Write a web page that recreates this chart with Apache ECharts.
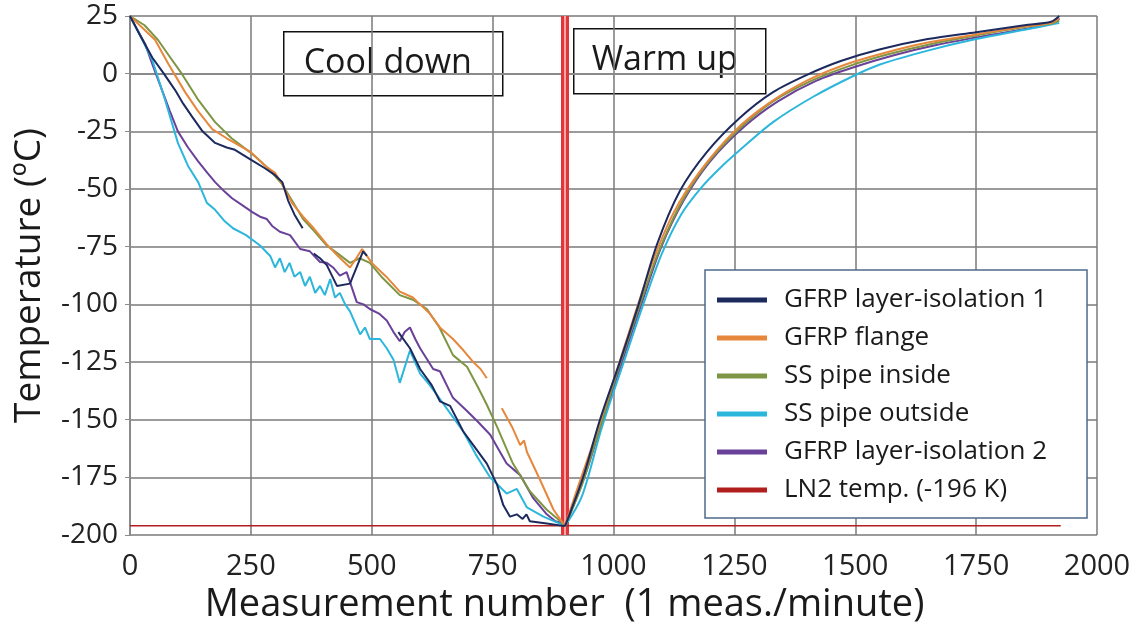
<!DOCTYPE html>
<html>
<head>
<meta charset="utf-8">
<script src="https://cdn.jsdelivr.net/npm/echarts@6/dist/echarts.min.js"></script>
<style>
  html, body { margin: 0; padding: 0; background: #fff; }
  #chart { width: 1140px; height: 629px; }
</style>
</head>
<body>
<div id="chart"></div>
<script>
// values read off the picture: [measurement number, temperature in C]; '-' marks a gap in the record
// cool down part
const iso1Cool = [[0, 25], [20, 17], [46, 7], [70, 0], [93, -7], [110, -13], [128, -18.5], [150, -25], [176, -30], [200, -32], [217, -33], [248, -37], [279, -41], [300, -44], [315, -47], [327, -55], [340, -61], [357, -67], [368, '-'], [380, -78], [393, -80], [407, -83], [428, -92], [455, -91], [482, -77], [490, -79], [520, '-'], [555, -112], [579, -119], [600, -128], [624, -135], [641, -142], [662, -144], [689, -155], [710, -161], [738, -169], [759, -178], [772, -187], [786, -192], [800, -191], [812, -193], [820, -191], [827, -194], [862, -195], [896, -196], [900, -196]]
const flangeCool = [[0, 25], [25, 20], [52, 14.6], [80, 4], [114, -8], [140, -16], [170, -24], [200, -28], [250, -34], [280, -40], [300, -43], [315, -48], [335, -56], [358, -62], [380, -67], [407, -74], [430, -79], [455, -84], [468, -80], [480, -76], [490, -79], [500, -82], [530, -88], [558, -94.5], [585, -97], [600, -100], [620, -104], [641, -110], [668, -115], [690, -120], [710, -125], [725, -128], [738, -132], [750, '-'], [769, -145], [790, -153], [807, -161], [815, -159], [821, -164], [848, -176], [876, -189], [896, -195], [900, -196]]
const ssInsideCool = [[0, 25], [30, 21], [58, 14.6], [80, 8], [107, 0], [140, -11], [176, -21], [210, -28], [248, -34], [270, -38], [290, -42], [315, -48], [335, -55], [358, -63], [380, -68], [407, -74.5], [430, -78], [455, -82], [475, -80], [496, -82], [520, -88], [558, -96], [585, -98], [614, -102], [640, -110], [668, -122], [697, -127], [720, -136], [738, -143.5], [759, -153], [792, -169], [827, -181], [862, -189], [896, -195], [900, -196]]
const ssOutsideCool = [[0, 25], [20, 17], [46, 6], [72, -11], [99, -30], [120, -40], [141, -47], [159, -56], [176, -59], [196, -64], [213, -67], [240, -70], [269, -74.5], [290, -79], [300, -84], [310, -80], [320, -86], [330, -82], [340, -88], [352, -86], [362, -92], [372, -88], [383, -95], [393, -92], [403, -96], [414, -89], [424, -97], [434, -95], [445, -100], [455, -103], [476, -113], [486, -110], [496, -115], [517, -115], [531, -119], [545, -124], [558, -134], [579, -120], [600, -130], [620, -135], [641, -141], [665, -148], [689, -155], [715, -165], [745, -175], [779, -182], [800, -180], [821, -188], [855, -192], [889, -195], [900, -196]]
const iso2Cool = [[0, 25], [15, 19], [31, 13], [48, 3], [66, -7], [82, -16], [99, -25], [120, -32], [141, -38], [160, -43], [176, -47], [195, -51], [211, -54], [232, -57], [253, -60], [269, -62], [283, -63], [294, -66], [310, -68.5], [331, -70], [352, -76], [372, -77], [393, -81.6], [407, -82], [420, -84], [434, -87.5], [448, -86], [469, -99], [483, -100], [496, -102], [515, -104], [531, -107], [545, -112], [558, -116], [568, -112], [579, -110], [590, -115], [600, -119], [627, -128], [641, -129], [668, -140.5], [696, -146], [720, -151], [745, -156.5], [760, -162], [779, -169], [807, -174], [834, -184], [862, -191], [880, -194], [896, -195], [900, -196]]

// warm up part
const iso1Warm = [[900, -196], [937, -175], [972, -150], [1013, -125], [1052, -100], [1090, -74], [1137, -51], [1193, -34], [1262, -19], [1330, -8], [1400, -0.5], [1470, 5.5], [1550, 10.5], [1650, 15], [1750, 18], [1850, 21], [1905, 22.5], [1922, 25]]
const flangeWarm = [[900, -196], [925, -180], [958, -160], [1000, -133], [1040, -107], [1080, -82], [1125, -60], [1180, -42], [1250, -25], [1320, -13], [1400, -3], [1480, 4], [1560, 9], [1650, 13.5], [1750, 17], [1850, 20.5], [1905, 22], [1922, 24]]
const ssInsideWarm = [[900, -196], [935, -178], [968, -156], [1010, -128], [1050, -103], [1090, -79], [1135, -58], [1190, -40], [1260, -24], [1330, -12], [1410, -3], [1490, 3.5], [1570, 8.5], [1660, 13], [1760, 17], [1860, 20.5], [1910, 22], [1922, 23]]
const ssOutsideWarm = [[900, -196], [935, -183], [975, -154], [1018, -127], [1060, -101], [1100, -78], [1140, -61], [1179, -50], [1220, -41], [1262, -33], [1330, -21], [1413, -10], [1496, -1], [1551, 4], [1650, 10], [1750, 15], [1850, 19], [1910, 21.5], [1922, 22]]
const iso2Warm = [[900, -196], [938, -176], [975, -152], [1016, -126], [1056, -101], [1097, -76], [1145, -55], [1200, -38], [1270, -23], [1340, -12], [1420, -3], [1500, 3], [1580, 8], [1670, 12.5], [1770, 16.5], [1870, 20], [1912, 22], [1922, 24]]

const ln2Data = [[0, -196], [1925, -196]]
const turnPoint = 900

const seriesNames = ['GFRP layer-isolation 1', 'GFRP flange', 'SS pipe inside', 'SS pipe outside', 'GFRP layer-isolation 2', 'LN2 temp. (-196 K)']
const seriesColors = ['#1c2a5e', '#e6873c', '#7e9644', '#2db6dc', '#6a4199', '#b01e1e']
const coolData = [iso1Cool, flangeCool, ssInsideCool, ssOutsideCool, iso2Cool]
const warmData = [iso1Warm, flangeWarm, ssInsideWarm, ssOutsideWarm, iso2Warm]

const font = '"Open Sans", sans-serif'
const chart = echarts.init(document.getElementById('chart'))

function lineSeries(i, data, smooth) {
  return {
    name: seriesNames[i],
    type: 'line',
    data: data,
    smooth: smooth,
    showSymbol: false,
    connectNulls: false,
    z: 10 - i,
    lineStyle: { color: seriesColors[i], width: i === 5 ? 1.5 : 2 },
    itemStyle: { color: seriesColors[i] }
  }
}

const series = []
coolData.forEach((d, i) => series.push(lineSeries(i, d, false)))
warmData.forEach((d, i) => series.push(lineSeries(i, d, 0.3)))
const ln2 = lineSeries(5, ln2Data, false)
// the double red line marking the turn from cool down to warm up
ln2.markLine = {
  silent: true,
  symbol: 'none',
  label: { show: false },
  data: [
    { xAxis: turnPoint, lineStyle: { color: '#e2363a', width: 8, type: 'solid' } },
    { xAxis: turnPoint, lineStyle: { color: '#f7a5a5', width: 2, type: 'solid' } }
  ]
}
series.push(ln2)

chart.setOption({
  animation: false,
  backgroundColor: '#fff',
  textStyle: { fontFamily: font },
  grid: { left: 130, right: 43, top: 16, bottom: 92 },
  legend: {
    orient: 'vertical',
    left: 705,
    top: 270,
    data: seriesNames,
    icon: 'rect',
    itemWidth: 50,
    itemHeight: 5,
    itemGap: 12,
    padding: [17, 40, 15, 12],
    backgroundColor: '#fff',
    borderColor: '#4d6b8a',
    borderWidth: 1.5,
    textStyle: { fontFamily: font, fontSize: 26, color: '#1a1a1a', lineHeight: 22, padding: [0, 0, 0, 12] }
  },
  xAxis: {
    type: 'value',
    min: 0,
    max: 2000,
    interval: 250,
    name: 'Measurement number  (1 meas./minute)',
    nameLocation: 'middle',
    nameGap: 46,
    nameTextStyle: { fontFamily: font, fontSize: 38, color: '#1a1a1a', padding: [0, 98, 0, 0] },
    axisLine: { show: true, lineStyle: { color: '#8a8a8a', width: 2 } },
    axisTick: { show: true, length: 5, lineStyle: { color: '#8a8a8a' } },
    axisLabel: { fontFamily: font, fontSize: 29, color: '#222', margin: 17, formatter: v => String(v) },
    splitLine: { show: true, lineStyle: { color: '#7a7a7a', width: 1.5 } }
  },
  yAxis: {
    type: 'value',
    min: -200,
    max: 25,
    interval: 25,
    name: 'Temperature (ºC)',
    nameLocation: 'middle',
    nameGap: 82,
    nameTextStyle: { fontFamily: font, fontSize: 37, color: '#1a1a1a' },
    axisLine: { show: true, lineStyle: { color: '#8a8a8a', width: 2 } },
    axisTick: { show: true, length: 5, lineStyle: { color: '#8a8a8a' } },
    axisLabel: { fontFamily: font, fontSize: 28, color: '#222', margin: 12, formatter: v => String(v) },
    splitLine: { show: true, lineStyle: { color: '#7a7a7a', width: 1.5 } }
  },
  graphic: [
    {
      type: 'group',
      left: 283,
      top: 31,
      z: 100,
      children: [
        { type: 'rect', shape: { x: 0, y: 0, width: 219, height: 64 }, style: { fill: '#fff', stroke: '#111', lineWidth: 1.5 } },
        { type: 'text', x: 104, y: 32, style: { text: 'Cool down', font: '34px ' + font, fill: '#1a1a1a', align: 'center', verticalAlign: 'middle' } }
      ]
    },
    {
      type: 'group',
      left: 573,
      top: 28,
      z: 100,
      children: [
        { type: 'rect', shape: { x: 0, y: 0, width: 192, height: 65 }, style: { fill: '#fff', stroke: '#111', lineWidth: 1.5 } },
        { type: 'text', x: 91, y: 32, style: { text: 'Warm up', font: '34px ' + font, fill: '#1a1a1a', align: 'center', verticalAlign: 'middle' } }
      ]
    }
  ],
  series: series
})
</script>
</body>
</html>
